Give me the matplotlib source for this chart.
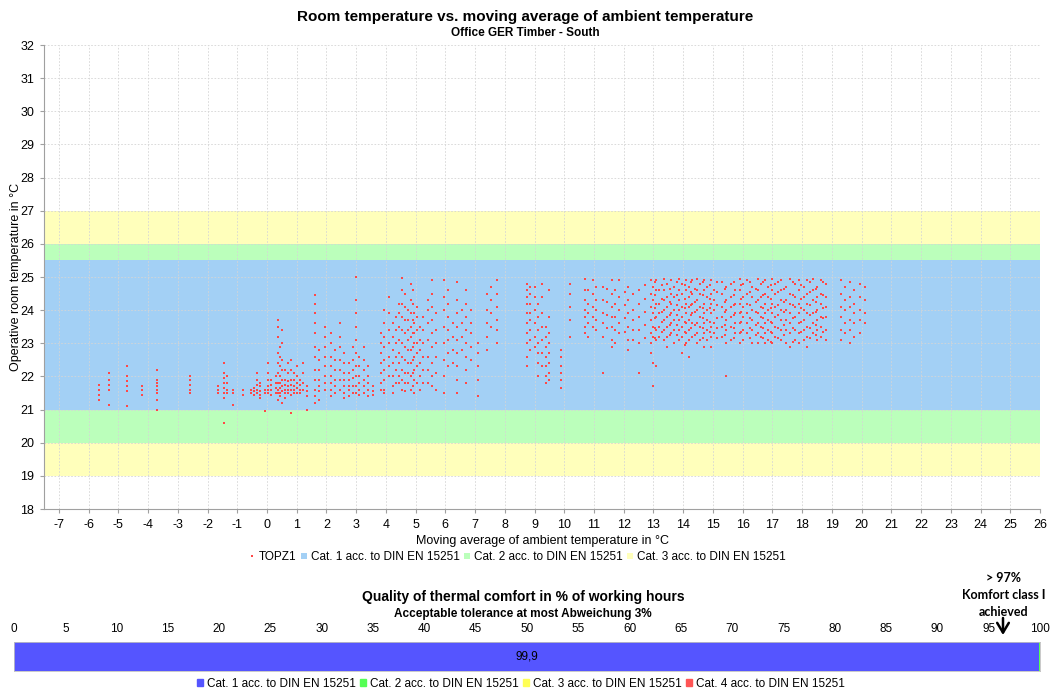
import matplotlib
matplotlib.use("Agg")
import matplotlib.pyplot as plt
from matplotlib.lines import Line2D
from matplotlib.patches import Patch, FancyArrowPatch

plt.rcParams['font.family'] = ['Liberation Sans', 'DejaVu Sans']
plt.rcParams['axes.unicode_minus'] = False

# ---------------- data ----------------
# moving average of ambient temperature per day (x) and room temperatures for that day (y)
day_x = [-5.65, -5.3, -4.72, -4.2, -3.7, -2.6, -1.65, -1.45, -1.35, -1.15, -0.8, -0.55, -0.45, -0.35, -0.25,
         -0.07, 0.05, 0.15, 0.3, 0.38, 0.45, 0.52, 0.6, 0.7, 0.8, 0.9, 1.0, 1.1, 1.2, 1.35, 1.6, 1.75, 1.95,
         2.15, 2.3, 2.45, 2.6, 2.75, 2.9, 3.0, 3.1, 3.25, 3.4, 3.55, 3.85, 3.95, 4.1, 4.25, 4.45, 4.55, 4.65,
         4.75, 4.85, 4.95, 5.05, 5.15, 5.4, 5.55, 5.7, 5.95, 6.1, 6.25, 6.4, 6.55, 6.7, 6.85, 7.1, 7.4, 7.55,
         7.75, 8.75, 8.85, 9.0, 9.1, 9.25, 9.4, 9.5, 9.9, 10.2, 10.7, 10.8, 10.95, 11.05, 11.3, 11.6, 11.7,
         11.85, 12.15, 12.3, 12.5, 12.9, 13.0, 13.1, 13.2, 13.35, 13.45, 13.6, 13.7, 13.85, 13.95, 14.1, 14.2,
         14.3, 14.45, 14.55, 14.7, 14.8, 14.95, 15.05, 15.3, 15.45, 15.6, 15.75, 15.9, 16.0, 16.15, 16.3, 16.5,
         16.6, 16.75, 16.85, 17.0, 17.1, 17.3, 17.45, 17.6, 17.75, 17.9, 18.05, 18.15, 18.35, 18.5, 18.65, 18.8,
         19.3, 19.45, 19.6, 19.75, 19.95, 20.1,
         13.05, 13.3, 13.55, 13.8, 14.05, 14.25, 14.4, 14.65, 14.9, 15.15, 15.4, 15.7, 15.95, 16.25, 16.45,
         16.7, 16.95, 17.2, 17.4, 17.7, 17.95, 18.25, 18.45, 18.7, 12.7, 12.05, 11.45, 4.35, 4.9, 5.25]
day_temps = [
    [21.75, 21.6, 21.45, 21.3],
    [22.1, 21.9, 21.75, 21.6, 21.15],
    [22.3, 22.0, 21.85, 21.7, 21.55, 21.1],
    [21.7, 21.6, 21.45],
    [22.2, 21.9, 21.8, 21.7, 21.6, 21.5, 21.3, 21.0],
    [22.0, 21.9, 21.75, 21.6, 21.5],
    [21.7, 21.6, 21.5],
    [22.4, 22.1, 21.95, 21.8, 21.65, 21.5, 21.35, 20.6],
    [22.0, 21.8, 21.6, 21.5],
    [21.6, 21.5, 21.15],
    [21.6, 21.45],
    [21.6, 21.5],
    [21.65, 21.55, 21.45],
    [22.1, 21.9, 21.75, 21.6, 21.5],
    [21.8, 21.7, 21.55, 21.45, 21.35],
    [21.6, 21.5, 20.95],
    [22.4, 22.1, 21.9, 21.7, 21.6, 21.5],
    [21.9, 21.75, 21.6, 21.45],
    [22.0, 21.8, 21.65, 21.5],
    [23.7, 23.5, 23.2, 22.7, 22.4, 22.1, 21.8, 21.6, 21.5, 21.3],
    [22.9, 22.6, 22.3, 22.0, 21.8, 21.65, 21.5, 21.4],
    [23.4, 23.0, 22.5, 22.2, 21.9, 21.7, 21.55, 21.2],
    [22.2, 21.9, 21.75, 21.6, 21.5, 21.35],
    [22.4, 22.1, 21.85, 21.7, 21.6, 21.5],
    [22.5, 22.2, 21.9, 21.75, 21.6, 21.45, 20.9],
    [22.1, 21.9, 21.7, 21.6, 21.5],
    [22.3, 22.0, 21.8, 21.65, 21.5],
    [21.9, 21.75, 21.6, 21.5],
    [22.4, 22.1, 21.8, 21.6],
    [21.7, 21.55, 21.4, 21.0],
    [24.45, 24.2, 23.9, 23.6, 23.3, 22.9, 22.6, 22.2, 21.9, 21.6, 21.4, 21.2],
    [22.8, 22.5, 22.2, 21.9, 21.7, 21.55, 21.3],
    [23.5, 23.2, 22.9, 22.6, 22.3, 22.0, 21.8, 21.6],
    [23.3, 23.0, 22.6, 22.3, 22.0, 21.8, 21.6, 21.4],
    [22.8, 22.5, 22.2, 21.9, 21.7, 21.5],
    [23.6, 23.2, 22.9, 22.5, 22.2, 21.9, 21.6],
    [22.7, 22.4, 22.1, 21.9, 21.7, 21.5, 21.35],
    [22.4, 22.1, 21.9, 21.7, 21.6, 21.4],
    [22.9, 22.5, 22.2, 21.95, 21.7, 21.5],
    [25.0, 24.3, 23.9, 23.5, 23.1, 22.7, 22.3, 22.0, 21.7, 21.5],
    [22.6, 22.3, 22.0, 21.8, 21.6, 21.45],
    [22.9, 22.5, 22.2, 21.9, 21.7, 21.5],
    [22.3, 22.0, 21.8, 21.6, 21.4],
    [21.7, 21.55, 21.45],
    [23.3, 23.0, 22.7, 22.4, 22.1, 21.8, 21.6],
    [24.0, 23.6, 23.2, 22.9, 22.5, 22.2, 21.9, 21.6, 21.5],
    [24.4, 23.9, 23.4, 23.0, 22.6, 22.3, 22.0],
    [23.6, 23.2, 22.8, 22.4, 22.0, 21.7, 21.5],
    [24.2, 23.9, 23.5, 23.1, 22.7, 22.4, 22.0, 21.8],
    [24.97, 24.6, 24.2, 23.8, 23.4, 23.0, 22.6, 22.2, 21.9, 21.6],
    [24.5, 24.1, 23.7, 23.3, 22.9, 22.5, 22.1, 21.8, 21.55],
    [24.0, 23.7, 23.4, 23.1, 22.8, 22.4, 22.1, 21.8],
    [24.8, 24.3, 23.9, 23.5, 23.2, 22.8, 22.4, 22.0, 21.6],
    [23.9, 23.6, 23.3, 23.0, 22.6, 22.2, 21.9, 21.5],
    [24.1, 23.8, 23.4, 23.0, 22.7, 22.3, 21.8],
    [23.5, 23.1, 22.8, 22.4, 22.0, 21.6],
    [24.3, 24.0, 23.6, 23.1, 22.6, 22.2, 21.8],
    [24.9, 24.5, 24.1, 23.7, 23.3, 22.9, 22.4, 22.0, 21.7],
    [23.9, 23.4, 23.0, 22.6, 22.1, 21.6],
    [24.9, 24.4, 24.0, 23.5, 23.0, 22.5, 22.0, 21.5],
    [24.6, 24.2, 23.8, 23.4, 23.1, 22.7, 22.3],
    [23.6, 23.2, 22.8, 22.4],
    [24.85, 24.3, 23.9, 23.5, 23.1, 22.7, 22.3, 21.9, 21.5],
    [24.0, 23.6, 23.2, 22.8],
    [24.6, 24.2, 23.8, 23.4, 23.0, 22.6, 22.2, 21.8],
    [24.0, 23.6, 23.3, 22.9, 22.5],
    [23.0, 22.7, 22.3, 21.9, 21.4],
    [24.5, 24.0, 23.6, 23.2, 22.8],
    [24.7, 24.3, 23.9, 23.5],
    [24.9, 24.5, 24.1, 23.7, 23.4, 23.0],
    [24.8, 24.6, 24.4, 24.2, 23.9, 23.6, 23.3, 23.0, 22.6, 22.3],
    [24.7, 24.5, 24.2, 23.9, 23.7, 23.4, 23.1, 22.8],
    [24.7, 24.4, 24.0, 23.6, 23.2, 22.9],
    [24.2, 23.8, 23.4, 23.0, 22.7, 22.4, 22.0],
    [24.8, 24.4, 23.9, 23.5, 23.1, 22.7, 22.3],
    [23.5, 23.2, 22.9, 22.6, 22.3, 22.0, 21.8],
    [24.6, 23.8, 23.3, 23.0, 22.7, 22.4, 22.1, 21.9],
    [22.8, 22.6, 22.3, 22.1, 21.9, 21.65],
    [24.8, 24.5, 24.1, 23.7, 23.2],
    [24.95, 24.6, 24.3, 24.0, 23.8, 23.5, 23.3],
    [24.6, 24.2, 23.9, 23.6, 23.2],
    [24.9, 24.5, 24.1, 23.8, 23.5],
    [24.7, 24.3, 24.0, 23.7, 23.4],
    [24.7, 24.3, 23.9, 23.6, 23.2, 22.1],
    [24.9, 24.5, 24.1, 23.8, 23.5, 23.1, 22.9],
    [24.6, 24.2, 23.8, 23.4, 23.0],
    [24.9, 24.4, 24.0, 23.6, 23.3],
    [24.7, 24.3, 23.9, 23.5, 23.1, 22.8],
    [24.5, 24.0, 23.7, 23.4, 23.1],
    [24.6, 24.2, 23.8, 23.4, 23.0, 22.1],
    [24.9, 24.5, 24.1, 23.7, 23.3, 23.0, 22.7],
    [24.7, 24.3, 23.9, 23.5, 23.2, 22.4, 21.7],
    [24.9, 24.6, 24.2, 23.8, 23.4, 23.1, 22.3],
    [24.6, 24.2, 23.9, 23.5, 23.2],
    [24.95, 24.6, 24.3, 24.0, 23.7, 23.4, 23.1],
    [24.8, 24.4, 24.1, 23.8, 23.5, 23.2, 22.9],
    [24.9, 24.5, 24.2, 23.9, 23.6, 23.3],
    [24.7, 24.4, 24.0, 23.7, 23.4, 23.0],
    [24.95, 24.6, 24.3, 24.0, 23.7, 23.4, 23.1],
    [24.8, 24.5, 24.1, 23.8, 23.5, 23.2, 22.7],
    [24.9, 24.6, 24.2, 23.9, 23.6, 23.3, 23.0],
    [24.7, 24.4, 24.1, 23.7, 23.4, 23.1, 22.6],
    [24.9, 24.5, 24.2, 23.9, 23.6, 23.2],
    [24.95, 24.6, 24.3, 24.0, 23.6, 23.3, 23.0],
    [24.8, 24.5, 24.1, 23.8, 23.5, 23.1],
    [24.9, 24.6, 24.2, 23.9, 23.6, 23.3, 22.9],
    [24.7, 24.4, 24.0, 23.7, 23.4, 23.1],
    [24.9, 24.5, 24.2, 23.9, 23.5, 23.2, 22.9],
    [24.6, 24.3, 24.0, 23.6, 23.3],
    [24.85, 24.5, 24.1, 23.8, 23.5, 23.2],
    [24.7, 24.3, 24.0, 23.7, 23.4, 23.0, 22.0],
    [24.8, 24.4, 24.1, 23.8, 23.5, 23.1],
    [24.6, 24.2, 23.9, 23.6, 23.3],
    [24.95, 24.6, 24.2, 23.9, 23.6, 23.3, 23.0],
    [24.8, 24.4, 24.1, 23.8, 23.4, 23.1],
    [24.9, 24.5, 24.2, 23.9, 23.6, 23.3],
    [24.7, 24.4, 24.0, 23.7, 23.4, 23.0],
    [24.95, 24.6, 24.3, 23.9, 23.6, 23.3, 23.0],
    [24.8, 24.4, 24.1, 23.8, 23.5, 23.2],
    [24.9, 24.5, 24.2, 23.9, 23.6, 23.3, 23.0],
    [24.7, 24.4, 24.0, 23.7, 23.4, 23.1],
    [24.95, 24.6, 24.2, 23.9, 23.6, 23.3, 23.0],
    [24.8, 24.5, 24.1, 23.8, 23.5, 23.2],
    [24.9, 24.6, 24.3, 24.0, 23.7, 23.4, 23.1],
    [24.7, 24.3, 24.0, 23.7, 23.4, 23.0],
    [24.95, 24.5, 24.2, 23.9, 23.6, 23.3, 22.9],
    [24.8, 24.4, 24.1, 23.8, 23.4, 23.1],
    [24.9, 24.6, 24.2, 23.9, 23.6, 23.3, 23.0],
    [24.7, 24.4, 24.0, 23.7, 23.4, 23.1],
    [24.9, 24.5, 24.2, 23.9, 23.5, 23.2, 22.9],
    [24.95, 24.6, 24.3, 23.9, 23.6, 23.3],
    [24.7, 24.4, 24.0, 23.7, 23.4, 23.1],
    [24.9, 24.5, 24.2, 23.8, 23.5, 23.2],
    [24.8, 24.4, 24.1, 23.8, 23.4, 23.1],
    [24.9, 24.5, 24.1, 23.8, 23.4, 23.1],
    [24.7, 24.3, 24.0, 23.6, 23.3],
    [24.85, 24.4, 24.1, 23.7, 23.4, 23.0],
    [24.6, 24.2, 23.9, 23.6, 23.2],
    [24.8, 24.4, 24.0, 23.7, 23.3],
    [24.7, 24.3, 23.9, 23.6],
    # additional days in the dense summer region
    [24.85, 24.45, 24.05, 23.75, 23.45, 23.15],
    [24.75, 24.35, 23.95, 23.65, 23.35],
    [24.65, 24.25, 23.85, 23.55, 23.25],
    [24.85, 24.45, 24.15, 23.85, 23.55, 23.25],
    [24.75, 24.35, 24.05, 23.65, 23.35, 22.95],
    [24.85, 24.55, 24.15, 23.85, 23.45],
    [24.65, 24.25, 23.95, 23.55, 23.25],
    [24.85, 24.45, 24.05, 23.75, 23.45, 23.15],
    [24.75, 24.35, 24.05, 23.65, 23.35],
    [24.85, 24.55, 24.15, 23.75, 23.45, 23.15],
    [24.65, 24.25, 23.95, 23.55, 23.25],
    [24.85, 24.45, 24.15, 23.85, 23.45, 23.15],
    [24.75, 24.35, 23.95, 23.65, 23.35],
    [24.85, 24.55, 24.15, 23.75, 23.45, 23.15],
    [24.65, 24.25, 23.95, 23.55, 23.25],
    [24.85, 24.45, 24.05, 23.75, 23.45, 23.15],
    [24.75, 24.35, 24.05, 23.65, 23.35, 23.05],
    [24.85, 24.55, 24.15, 23.85, 23.45, 23.15],
    [24.65, 24.25, 23.95, 23.55, 23.25],
    [24.85, 24.45, 24.15, 23.75, 23.45, 23.05],
    [24.75, 24.35, 24.05, 23.65, 23.35],
    [24.85, 24.55, 24.15, 23.85, 23.45, 23.15],
    [24.65, 24.25, 23.95, 23.55, 23.25],
    [24.85, 24.45, 24.05, 23.75, 23.35],
    [24.75, 24.35, 23.95, 23.55, 23.15],
    [24.55, 24.15, 23.75, 23.35],
    [24.65, 24.25, 23.85, 23.45],
    [23.8, 23.4, 23.0, 22.6, 22.2, 21.8],
    [24.6, 24.2, 23.7, 23.3, 22.9, 22.5, 22.1, 21.7],
    [23.8, 23.4, 23.0, 22.6, 22.2, 21.8],
]

# comfort category bands (lower, upper) in °C
cat_labels = ["Cat. 1 acc. to DIN EN 15251", "Cat. 2 acc. to DIN EN 15251",
              "Cat. 3 acc. to DIN EN 15251", "Cat. 4 acc. to DIN EN 15251"]
cat3_band = (19.0, 27.0)
cat2_band = (20.0, 26.0)
cat1_band = (21.0, 25.5)

# share of working hours per category in %
quality_values = [99.9, 0.1, 0.0, 0.0]
quality_label = "99,9"

x_ticks = list(range(-7, 27))
y_ticks = list(range(18, 33))
pct_ticks = list(range(0, 101, 5))

# ---------------- figure ----------------
W, H = 1050, 693
fig = plt.figure(figsize=(W / 100, H / 100), dpi=100)

def fx(px):
    return px / W

def fy(py):
    return 1 - py / H

c_blue_band = "#A3D0F5"
c_green_band = "#BBFFBB"
c_yellow_band = "#FFFFBB"
c_point = "#FF4848"

ax = fig.add_axes([fx(44), fy(509), fx(1040) - fx(44), fy(45) - fy(509)])
ax.axhspan(*cat3_band, color=c_yellow_band, lw=0, zorder=0)
ax.axhspan(*cat2_band, color=c_green_band, lw=0, zorder=0.1)
ax.axhspan(*cat1_band, color=c_blue_band, lw=0, zorder=0.2)

xs, ys = [], []
for dx, temps in zip(day_x, day_temps):
    for t in temps:
        xs.append(dx)
        ys.append(t)
ax.plot(xs, ys, ls="none", marker="s", ms=1.9, mew=0, color=c_point, zorder=3)

ax.set_xlim(-7.5, 26)
ax.set_ylim(18, 32)
ax.set_xticks(x_ticks)
ax.set_yticks(y_ticks)
ax.grid(True, color="#D5D5D5", ls=(0, (2, 2)), lw=0.6)
for gl in ax.get_xgridlines() + ax.get_ygridlines():
    gl.set_zorder(1)
for s in ("top", "right"):
    ax.spines[s].set_visible(False)
for s in ("left", "bottom"):
    ax.spines[s].set_color("#A0A0A0")
ax.tick_params(axis="both", labelsize=9, length=3, color="#A0A0A0", pad=4)
ax.set_xlabel("Moving average of ambient temperature in °C", fontsize=9, labelpad=3)
ax.set_ylabel("Operative room temperature in °C", fontsize=9)
ax.yaxis.set_label_coords(-(44 - 22) / (1040 - 44), 0.5)

fig.text(0.5, fy(17), "Room temperature vs. moving average of ambient temperature",
         ha="center", va="center", fontsize=11, fontweight="bold")
fig.text(0.5, fy(33), "Office GER Timber - South", ha="center", va="center",
         fontsize=8.5, fontweight="bold")

handles = [Line2D([], [], ls="none", marker="s", ms=2, mew=0, color=c_point),
           Line2D([], [], ls="none", marker="s", ms=4, mew=0, color=c_blue_band),
           Line2D([], [], ls="none", marker="s", ms=4, mew=0, color=c_green_band),
           Line2D([], [], ls="none", marker="s", ms=4, mew=0, color=c_yellow_band)]
fig.legend(handles, ["TOPZ1"] + cat_labels[:3], loc="center", bbox_to_anchor=(fx(517), fy(557)),
           ncol=4, frameon=False, fontsize=8.5, handlelength=0.6, handletextpad=0.3,
           columnspacing=0.3, borderpad=0)

# ---------------- quality bar ----------------
bar_colors = ["#5555FF", "#55FF55", "#FFFF55", "#FF5555"]
bax = fig.add_axes([fx(14), fy(671), fx(1040) - fx(14), fy(642) - fy(671)])
left = 0
for v, c in zip(quality_values, bar_colors):
    bax.barh(0, v, left=left, height=1.0, color=c, lw=0)
    left += v
bax.text(quality_values[0] / 2, 0, quality_label, ha="center", va="center", fontsize=8.5)
bax.set_xlim(0, 100)
bax.set_ylim(-0.5, 0.5)
bax.set_yticks([])
bax.set_xticks(pct_ticks)
bax.xaxis.tick_top()
bax.tick_params(axis="x", length=0, labelsize=8.5, pad=5)
for s in bax.spines.values():
    s.set_color("#C0C0C0")
    s.set_linewidth(0.6)

fig.text(fx(523), fy(597), "Quality of thermal comfort in % of working hours",
         ha="center", va="center", fontsize=10, fontweight="bold")
fig.text(fx(523), fy(614), "Acceptable tolerance at most Abweichung 3%",
         ha="center", va="center", fontsize=8.5, fontweight="bold")

ann_lines = ["> 97%", "Komfort class I", "achieved"]
for line, py in zip(ann_lines, [578, 595, 612]):
    fig.text(fx(1004), fy(py), line, ha="center", va="center", fontsize=9,
             fontweight="bold", family=["Lato", "DejaVu Sans"])
fig.add_artist(FancyArrowPatch((fx(1003), fy(618)), (fx(1003), fy(635)),
               transform=fig.transFigure, arrowstyle="->,head_length=0.5,head_width=0.3",
               mutation_scale=14, lw=1.8, color="black", shrinkA=0, shrinkB=0))

bhandles = [Patch(color=c) for c in bar_colors]
fig.legend(bhandles, cat_labels, loc="center", bbox_to_anchor=(fx(521), fy(684)), ncol=4,
           frameon=False, fontsize=8.5, handlelength=0.5, handleheight=0.5, handletextpad=0.3,
           columnspacing=0.4, borderpad=0)

fig.savefig("out.png", dpi=100)
